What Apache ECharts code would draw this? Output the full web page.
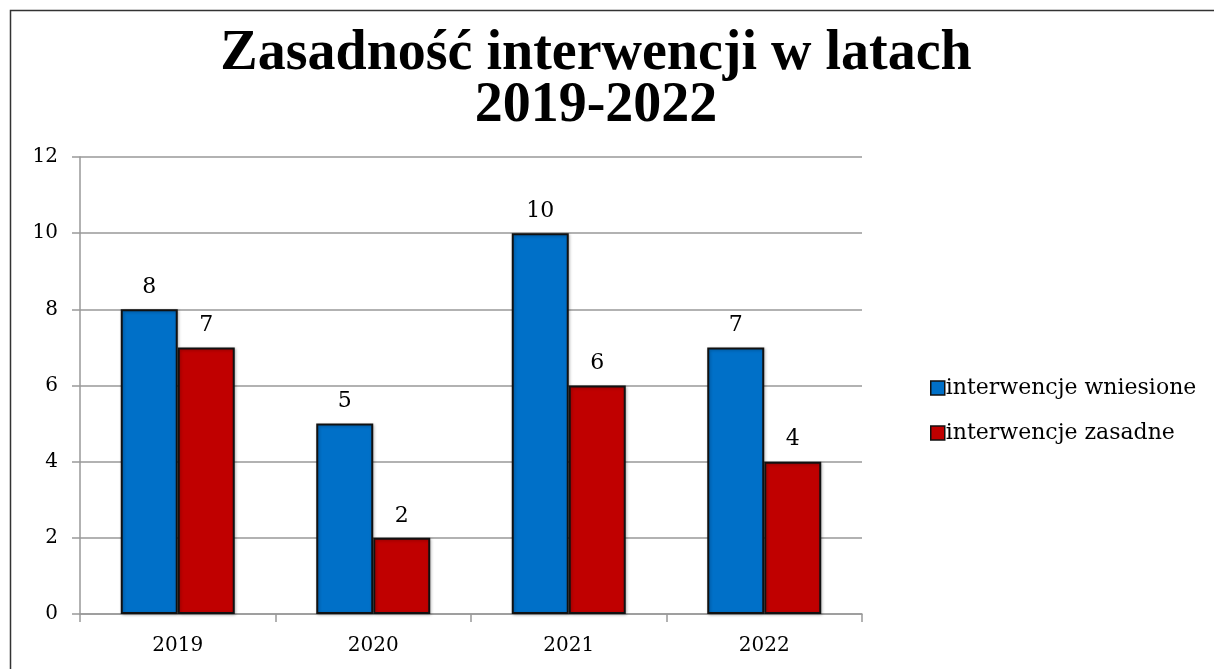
<!DOCTYPE html>
<html>
<head>
<meta charset="utf-8">
<script src="https://cdn.jsdelivr.net/npm/echarts@6/dist/echarts.min.js"></script>
<style>html,body{margin:0;padding:0;background:#fff}#c{width:1214px;height:669px}</style>
</head>
<body>
<div id="c"></div>
<script>
const categories = ['2019', '2020', '2021', '2022'];
const wniesione = [8, 5, 10, 7];
const zasadne = [7, 2, 6, 4];
const yTicks = [0, 2, 4, 6, 8, 10, 12];

const chart = echarts.init(document.getElementById('c'));
const serif = 'DejaVu Serif';
chart.setOption({
  animation: false,
  backgroundColor: '#fff',
  title: {
    text: 'Zasadność interwencji w latach\n2019-2022',
    left: 591, top: 24, textAlign: 'center',
    textStyle: { fontFamily: 'Liberation Serif', fontWeight: 'bold', fontSize: 56, lineHeight: 52, color: '#000' }
  },
  graphic: [{
    type: 'rect', shape: { x: 10.5, y: 10.5, width: 1300, height: 700 },
    style: { fill: 'none', stroke: '#333', lineWidth: 1.5 }, silent: true
  }],
  legend: {
    orient: 'vertical', left: 925, top: 372, itemWidth: 14, itemHeight: 14, itemGap: 23,
    icon: 'rect',
    itemStyle: { borderColor: '#111', borderWidth: 1.5 },
    textStyle: { fontFamily: serif, fontSize: 22, color: '#000', padding: [0, 0, 0, -4] },
    data: ['interwencje wniesione', 'interwencje zasadne']
  },
  grid: { left: 80, right: 352, top: 157, bottom: 55 },
  xAxis: {
    type: 'category', data: categories,
    axisLine: { lineStyle: { color: '#999', width: 1.5 } },
    axisTick: { show: true, length: 8, lineStyle: { color: '#999', width: 1.5 } },
    axisLabel: { fontFamily: serif, fontSize: 20, color: '#000', margin: 22 }
  },
  yAxis: {
    type: 'value', min: 0, max: 12, interval: 2,
    axisLine: { show: true, lineStyle: { color: '#999', width: 1.5 } },
    axisTick: { show: true, length: 8, lineStyle: { color: '#999', width: 1.5 } },
    splitLine: { lineStyle: { color: '#999', width: 1.5 } },
    axisLabel: { fontFamily: serif, fontSize: 20, color: '#000', margin: 22,
      formatter: v => yTicks.includes(v) ? String(v) : '' }
  },
  series: [
    { name: 'interwencje wniesione', type: 'bar', data: wniesione, barWidth: 57, barGap: '0%',
      itemStyle: { color: '#0070c8', borderColor: '#111', borderWidth: 2,
        shadowColor: 'rgba(0,0,0,0.25)', shadowBlur: 3, shadowOffsetX: 1, shadowOffsetY: 1 },
      label: { show: true, position: 'top', distance: 11, fontFamily: serif, fontSize: 22, color: '#000' } },
    { name: 'interwencje zasadne', type: 'bar', data: zasadne, barWidth: 57, barGap: '0%',
      itemStyle: { color: '#c00000', borderColor: '#111', borderWidth: 2,
        shadowColor: 'rgba(0,0,0,0.25)', shadowBlur: 3, shadowOffsetX: 1, shadowOffsetY: 1 },
      label: { show: true, position: 'top', distance: 11, fontFamily: serif, fontSize: 22, color: '#000' } }
  ]
});
</script>
</body>
</html>
